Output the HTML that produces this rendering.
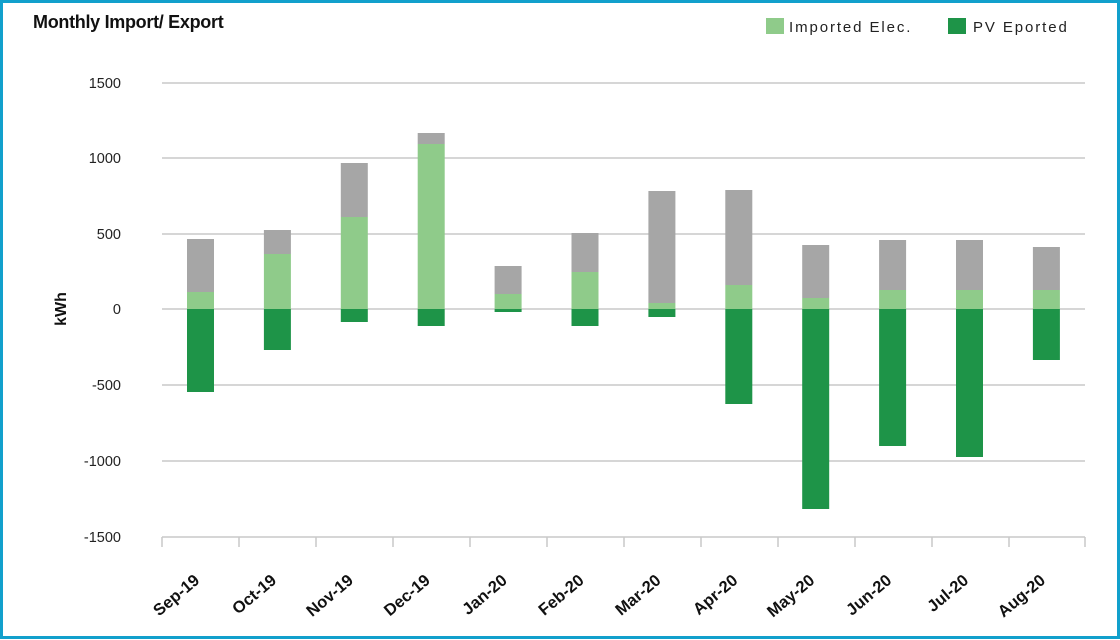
<!DOCTYPE html>
<html><head><style>
body{margin:0;width:1120px;height:640px;overflow:hidden;background:#fff}
svg{display:block}
text{font-family:"Liberation Sans",sans-serif}
</style></head><body>
<svg width="1120" height="640" viewBox="0 0 1120 640">
<rect x="1.5" y="1.5" width="1117" height="636" fill="#fff" stroke="#12a0cc" stroke-width="3"/>
<text x="33" y="28" font-size="18" font-weight="bold" fill="#111" letter-spacing="-0.3">Monthly Import/ Export</text>
<rect x="766" y="18" width="18" height="16" fill="#8fcb8a"/>
<text x="789" y="32" font-size="15" fill="#222" letter-spacing="1.9">Imported Elec.</text>
<rect x="948" y="18" width="18" height="16" fill="#1e9448"/>
<text x="973" y="32" font-size="15" fill="#222" letter-spacing="1.9">PV Eported</text>
<g stroke="#c8c8c8" stroke-width="1.5">
<line x1="162" x2="1085" y1="83" y2="83"/>
<line x1="162" x2="1085" y1="158" y2="158"/>
<line x1="162" x2="1085" y1="234" y2="234"/>
<line x1="162" x2="1085" y1="309" y2="309"/>
<line x1="162" x2="1085" y1="385" y2="385"/>
<line x1="162" x2="1085" y1="461" y2="461"/>
<line x1="162" x2="1085" y1="537" y2="537"/>
<line x1="162" x2="162" y1="537" y2="547"/><line x1="239" x2="239" y1="537" y2="547"/>
<line x1="316" x2="316" y1="537" y2="547"/><line x1="393" x2="393" y1="537" y2="547"/>
<line x1="470" x2="470" y1="537" y2="547"/><line x1="547" x2="547" y1="537" y2="547"/>
<line x1="624" x2="624" y1="537" y2="547"/><line x1="701" x2="701" y1="537" y2="547"/>
<line x1="778" x2="778" y1="537" y2="547"/><line x1="855" x2="855" y1="537" y2="547"/>
<line x1="932" x2="932" y1="537" y2="547"/><line x1="1009" x2="1009" y1="537" y2="547"/>
<line x1="1085" x2="1085" y1="537" y2="547"/>
</g>
<g font-size="14.5" fill="#222" text-anchor="end">
<text x="121" y="88">1500</text><text x="121" y="163">1000</text><text x="121" y="239">500</text>
<text x="121" y="314">0</text><text x="121" y="390">-500</text><text x="121" y="466">-1000</text><text x="121" y="542">-1500</text>
</g>
<text transform="translate(66,309) rotate(-90)" font-size="16" font-weight="bold" text-anchor="middle" fill="#111">kWh</text>
<g id="bars"></g>
<g font-size="16.5" font-weight="bold" fill="#111" text-anchor="end" id="labels"></g>
<script>
var d=[[239,292,392],[230,254,350],[163,217,322],[133,144,326],[266,294,312],[233,272,326],[191,303,317],[190,285,404],[245,298,509],[240,290,446],[240,290,457],[247,290,360]];
var L=["Sep-19","Oct-19","Nov-19","Dec-19","Jan-20","Feb-20","Mar-20","Apr-20","May-20","Jun-20","Jul-20","Aug-20"];
var ns="http://www.w3.org/2000/svg",b=document.getElementById("bars"),lb=document.getElementById("labels");
function r(x,y,h,c){var e=document.createElementNS(ns,"rect");e.setAttribute("x",x);e.setAttribute("y",y);e.setAttribute("width",27);e.setAttribute("height",h);e.setAttribute("fill",c);b.appendChild(e);}
d.forEach(function(v,i){var cx=200.5+i*76.9,x=cx-13.5;
r(x,v[0],v[1]-v[0],"#a6a6a6");r(x,v[1],309-v[1],"#8fcb8a");r(x,309,v[2]-309,"#1e9448");
var t=document.createElementNS(ns,"text");t.setAttribute("transform","translate("+(cx+0)+",582) rotate(-40)");t.textContent=L[i];lb.appendChild(t);});
</script>
</svg>
</body></html>
